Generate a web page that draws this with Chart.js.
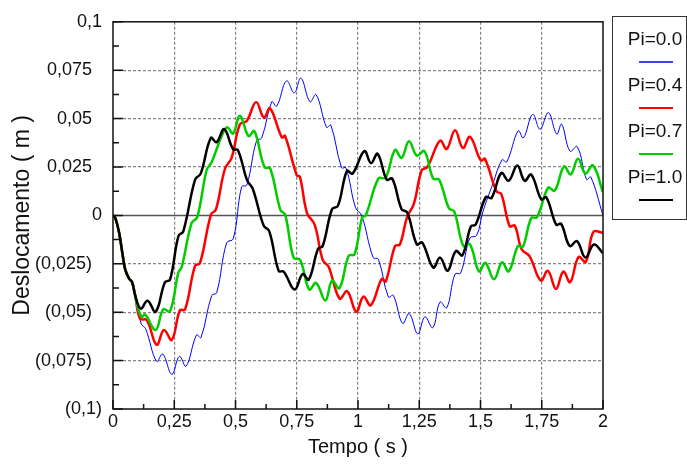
<!DOCTYPE html>
<html>
<head>
<meta charset="utf-8">
<title>Deslocamento x Tempo</title>
<script src="https://cdn.jsdelivr.net/npm/chart.js@4.4.0/dist/chart.umd.min.js"></script>
<style>
  html, body { margin: 0; padding: 0; background: #fff; }
  #wrap { width: 687px; height: 465px; position: relative; }
</style>
</head>
<body>
<div id="wrap"><canvas id="chart"></canvas></div>
<script>
// Series names (legend)
const seriesLabels = ['Pi=0.0', 'Pi=0.4', 'Pi=0.7', 'Pi=1.0'];

// Axis ticks
const xTicks = [0, 0.25, 0.5, 0.75, 1, 1.25, 1.5, 1.75, 2];
const xTickLabels = ['0', '0,25', '0,5', '0,75', '1', '1,25', '1,5', '1,75', '2'];
const yTicks = [-0.1, -0.075, -0.05, -0.025, 0, 0.025, 0.05, 0.075, 0.1];
const yTickLabels = ['(0,1)', '(0,075)', '(0,05)', '(0,025)', '0', '0,025', '0,05', '0,075', '0,1'];

// Pi=0.0 (blue)
const tPi00 = [0, 0.01, 0.025, 0.04, 0.05, 0.065, 0.078, 0.09, 0.115, 0.133, 0.178, 0.203, 0.240, 0.271, 0.298,
  0.341, 0.359, 0.403, 0.423, 0.464, 0.491, 0.525, 0.546, 0.586, 0.607, 0.648, 0.668, 0.708, 0.740, 0.767,
  0.804, 0.829, 0.872, 0.889, 0.933, 0.951, 0.990, 1.015, 1.062, 1.083, 1.124, 1.144, 1.182, 1.209, 1.244,
  1.273, 1.305, 1.335, 1.362, 1.396, 1.419, 1.457, 1.484, 1.510, 1.551, 1.588, 1.607, 1.654, 1.675, 1.713,
  1.743, 1.777, 1.811, 1.831, 1.865, 1.895, 1.933, 1.950, 2.0];
const yPi00 = [0, -0.0015, -0.009, -0.021, -0.028, -0.0325, -0.0345, -0.041, -0.056, -0.0585, -0.0754, -0.0716, -0.0821, -0.0728, -0.0779,
  -0.0617, -0.0631, -0.0413, -0.040, -0.0141, -0.0121, 0.0148, 0.0156, 0.0386, 0.040, 0.0587, 0.0564, 0.0695, 0.0633, 0.0709,
  0.0587, 0.0624, 0.0454, 0.0467, 0.0246, 0.0246, 0.004, 0.0, -0.0218, -0.0226, -0.0422, -0.0413, -0.0558, -0.0507, -0.0612,
  -0.0524, -0.058, -0.0447, -0.0478, -0.0303, -0.0298, -0.0116, -0.0104, 0.002, 0.0165, 0.0287, 0.0276, 0.0437, 0.040, 0.0522,
  0.0445, 0.0531, 0.042, 0.0471, 0.0332, 0.0355, 0.0185, 0.0199, 0.0];

// Pi=0.4 (red)
const tPi04 = [0, 0.01, 0.025, 0.04, 0.05, 0.065, 0.078, 0.09, 0.110, 0.138, 0.178, 0.208, 0.240, 0.273, 0.294,
  0.335, 0.355, 0.400, 0.420, 0.457, 0.484, 0.518, 0.546, 0.584, 0.616, 0.641, 0.689, 0.702, 0.750, 0.763,
  0.792, 0.823, 0.856, 0.880, 0.925, 0.956, 0.993, 1.022, 1.052, 1.097, 1.113, 1.151, 1.171, 1.200, 1.228,
  1.260, 1.283, 1.335, 1.362, 1.396, 1.428, 1.457, 1.501, 1.518, 1.565, 1.585, 1.619, 1.640, 1.668, 1.700,
  1.746, 1.775, 1.808, 1.838, 1.866, 1.900, 1.930, 1.961, 2.0];
const yPi04 = [0, -0.0015, -0.009, -0.021, -0.028, -0.0325, -0.0345, -0.041, -0.0533, -0.0541, -0.0668, -0.0592, -0.0643, -0.049, -0.0487,
  -0.026, -0.0247, 0.0005, 0.003, 0.0241, 0.0297, 0.0471, 0.0488, 0.0585, 0.0505, 0.0553, 0.0403, 0.0411, 0.0207, 0.0199,
  0.0012, -0.0048, -0.023, -0.0265, -0.043, -0.0392, -0.0498, -0.0419, -0.0464, -0.0328, -0.0342, -0.0158, -0.015, -0.001, 0.006,
  0.0233, 0.025, 0.0386, 0.0343, 0.044, 0.0348, 0.0406, 0.0284, 0.0292, 0.0125, 0.011, -0.0056, -0.0053, -0.0175, -0.021,
  -0.0337, -0.0286, -0.038, -0.029, -0.0345, -0.0215, -0.024, -0.0085, -0.009];

// Pi=0.7 (green)
const tPi07 = [0, 0.01, 0.025, 0.04, 0.05, 0.065, 0.078, 0.09, 0.100, 0.117, 0.131, 0.174, 0.205, 0.233, 0.267,
  0.280, 0.321, 0.344, 0.382, 0.403, 0.444, 0.466, 0.490, 0.518, 0.553, 0.577, 0.618, 0.642, 0.683, 0.703,
  0.737, 0.764, 0.801, 0.829, 0.867, 0.894, 0.924, 0.962, 0.986, 1.017, 1.031, 1.083, 1.113, 1.151, 1.178,
  1.208, 1.240, 1.271, 1.307, 1.331, 1.371, 1.393, 1.430, 1.457, 1.494, 1.520, 1.555, 1.588, 1.615, 1.653,
  1.673, 1.707, 1.731, 1.776, 1.803, 1.841, 1.868, 1.898, 1.928, 1.959, 2.0];
const yPi07 = [0, -0.0015, -0.009, -0.021, -0.028, -0.0325, -0.0345, -0.041, -0.047, -0.0524, -0.0512, -0.0592, -0.0485, -0.0495, -0.0294,
  -0.0269, -0.0039, -0.0009, 0.0233, 0.0276, 0.0411, 0.0455, 0.0423, 0.0515, 0.041, 0.0435, 0.025, 0.0241, 0.0029, 0.0003,
  -0.0218, -0.023, -0.0383, -0.0349, -0.0439, -0.0337, -0.0376, -0.0209, -0.0201, -0.001, -0.0002, 0.019, 0.0195, 0.0338, 0.0297,
  0.0383, 0.0309, 0.0332, 0.019, 0.0185, 0.0037, 0.002, -0.0158, -0.015, -0.0289, -0.0245, -0.033, -0.0243, -0.0289, -0.0158,
  -0.0162, -0.0014, -0.0009, 0.0143, 0.0128, 0.0253, 0.0212, 0.0292, 0.0216, 0.0258, 0.012];

// Pi=1.0 (black)
const tPi10 = [0, 0.01, 0.025, 0.04, 0.05, 0.065, 0.078, 0.09, 0.113, 0.141, 0.174, 0.212, 0.233, 0.267, 0.287,
  0.335, 0.358, 0.399, 0.423, 0.454, 0.490, 0.510, 0.547, 0.570, 0.615, 0.638, 0.676, 0.697, 0.741, 0.774,
  0.799, 0.837, 0.856, 0.894, 0.918, 0.955, 0.978, 1.026, 1.053, 1.080, 1.117, 1.140, 1.178, 1.201, 1.240,
  1.262, 1.307, 1.335, 1.366, 1.399, 1.426, 1.461, 1.480, 1.522, 1.545, 1.585, 1.615, 1.650, 1.680, 1.707,
  1.748, 1.769, 1.809, 1.829, 1.864, 1.894, 1.928, 1.963, 2.0];
const yPi10 = [0, -0.0015, -0.009, -0.021, -0.028, -0.0325, -0.0345, -0.041, -0.0482, -0.0441, -0.0498, -0.0345, -0.0332, -0.0107, -0.0082,
  0.0185, 0.0216, 0.040, 0.0378, 0.0446, 0.0342, 0.0337, 0.0182, 0.0139, -0.0053, -0.0082, -0.0286, -0.0291, -0.0383, -0.0303,
  -0.0332, -0.0172, -0.0158, 0.0032, 0.0049, 0.023, 0.0216, 0.0332, 0.027, 0.0318, 0.0185, 0.019, 0.0032, 0.0015, -0.015,
  -0.014, -0.0269, -0.0218, -0.0286, -0.0184, -0.0206, -0.0056, -0.0048, 0.0095, 0.009, 0.0219, 0.0179, 0.0258, 0.0179, 0.0211,
  0.0083, 0.0093, -0.0048, -0.0043, -0.0158, -0.0133, -0.0218, -0.015, -0.0196];

const FONT = '"Liberation Sans", Arial, sans-serif';

function toPoints(ts, ys) {
  return ts.map((t, i) => ({ x: t, y: ys[i] }));
}

function makeDataset(i, ts, ys, color, width) {
  return {
    label: seriesLabels[i],
    data: toPoints(ts, ys),
    borderColor: color,
    borderWidth: width,
    pointRadius: 0,
    fill: false,
    tension: 0.4,
    order: 3 - i
  };
}

// Mid points between major ticks, used for the small tick marks
const xMinor = xTicks.slice(1).map((v, i) => (v + xTicks[i]) / 2);
const yMinor = yTicks.slice(1).map((v, i) => (v + yTicks[i]) / 2);

// Zero line, frame, inner tick marks and legend box
const framePlugin = {
  id: 'frame',
  beforeDatasetsDraw(chart) {
    const { ctx, chartArea: a, scales: { y } } = chart;
    const y0 = y.getPixelForValue(0);
    ctx.save();
    ctx.strokeStyle = '#555';
    ctx.lineWidth = 1.5;
    ctx.beginPath();
    ctx.moveTo(a.left, y0);
    ctx.lineTo(a.right, y0);
    ctx.stroke();
    ctx.restore();
  },
  afterDatasetsDraw(chart) {
    const { ctx, chartArea: a, scales: { x, y } } = chart;
    ctx.save();
    ctx.strokeStyle = '#111';
    ctx.lineWidth = 1.5;
    ctx.strokeRect(a.left, a.top, a.right - a.left, a.bottom - a.top);

    ctx.beginPath();
    xTicks.forEach(v => {
      const px = x.getPixelForValue(v);
      ctx.moveTo(px, a.bottom);
      ctx.lineTo(px, a.bottom - 9);
    });
    xMinor.forEach(v => {
      const px = x.getPixelForValue(v);
      ctx.moveTo(px, a.bottom);
      ctx.lineTo(px, a.bottom - 5);
    });
    yTicks.forEach(v => {
      const py = y.getPixelForValue(v);
      ctx.moveTo(a.left, py);
      ctx.lineTo(a.left + 10, py);
    });
    yMinor.forEach(v => {
      const py = y.getPixelForValue(v);
      ctx.moveTo(a.left, py);
      ctx.lineTo(a.left + 6, py);
    });
    ctx.stroke();

    // legend
    ctx.lineWidth = 1;
    ctx.strokeStyle = '#333';
    ctx.strokeRect(612.5, 16.5, 74, 203);
    ctx.font = '19px ' + FONT;
    ctx.textAlign = 'center';
    ctx.textBaseline = 'middle';
    chart.data.datasets.forEach((ds, i) => {
      const cy = 40 + i * 46;
      ctx.fillStyle = '#111';
      ctx.fillText(ds.label, 655, cy);
      ctx.strokeStyle = ds.borderColor;
      ctx.lineWidth = ds.borderWidth < 2 ? 1.5 : 2;
      ctx.beginPath();
      ctx.moveTo(639, cy + 22);
      ctx.lineTo(673, cy + 22);
      ctx.stroke();
    });
    ctx.restore();
  }
};

const gridColor = 'rgba(110,110,110,0.85)';

new Chart(document.getElementById('chart'), {
  type: 'line',
  data: {
    datasets: [
      makeDataset(0, tPi00, yPi00, '#0000ff', 1),
      makeDataset(1, tPi04, yPi04, '#ff0000', 2.5),
      makeDataset(2, tPi07, yPi07, '#00cc00', 2.5),
      makeDataset(3, tPi10, yPi10, '#000000', 2.5)
    ]
  },
  options: {
    responsive: true,
    maintainAspectRatio: false,
    animation: false,
    devicePixelRatio: 1,
    layout: { padding: { left: 0, top: 16, right: 84, bottom: 0 } },
    plugins: { legend: { display: false }, tooltip: { enabled: false } },
    scales: {
      x: {
        type: 'linear',
        min: 0,
        max: 2,
        afterFit: s => { s.height = 56; },
        afterBuildTicks: s => { s.ticks = xTicks.map(v => ({ value: v })); },
        grid: {
          drawTicks: false,
          lineWidth: 1.2,
          color: c => (c.tick && (c.tick.value === 0 || c.tick.value === 2)) ? 'rgba(0,0,0,0)' : gridColor
        },
        border: { display: false, dash: [3, 2] },
        ticks: {
          padding: 2,
          maxRotation: 0,
          autoSkip: false,
          color: '#111',
          font: { family: FONT, size: 18 },
          callback: (v, i) => xTickLabels[i]
        },
        title: {
          display: true,
          text: 'Tempo ( s )',
          color: '#111',
          font: { family: FONT, size: 20 },
          padding: { top: 0, bottom: 6 }
        }
      },
      y: {
        type: 'linear',
        min: -0.1,
        max: 0.1,
        afterFit: s => { s.width = 113; },
        afterBuildTicks: s => { s.ticks = yTicks.map(v => ({ value: v })); },
        grid: {
          drawTicks: false,
          lineWidth: 1.2,
          color: c => (c.tick && (Math.abs(c.tick.value) > 0.09 || c.tick.value === 0)) ? 'rgba(0,0,0,0)' : gridColor
        },
        border: { display: false, dash: [3, 2] },
        ticks: {
          padding: 11,
          color: '#111',
          font: { family: FONT, size: 18 },
          // labels of the intermediate ticks sit a little further from the axis
          callback: (v, i) => yTickLabels[i] + (Math.abs(v) > 0.09 || v === 0 ? '' : '  ')
        },
        title: {
          display: true,
          text: 'Deslocamento ( m )',
          color: '#111',
          font: { family: FONT, size: 23 },
          padding: { top: 9, bottom: 0 }
        }
      }
    }
  },
  plugins: [framePlugin]
});
</script>
</body>
</html>
